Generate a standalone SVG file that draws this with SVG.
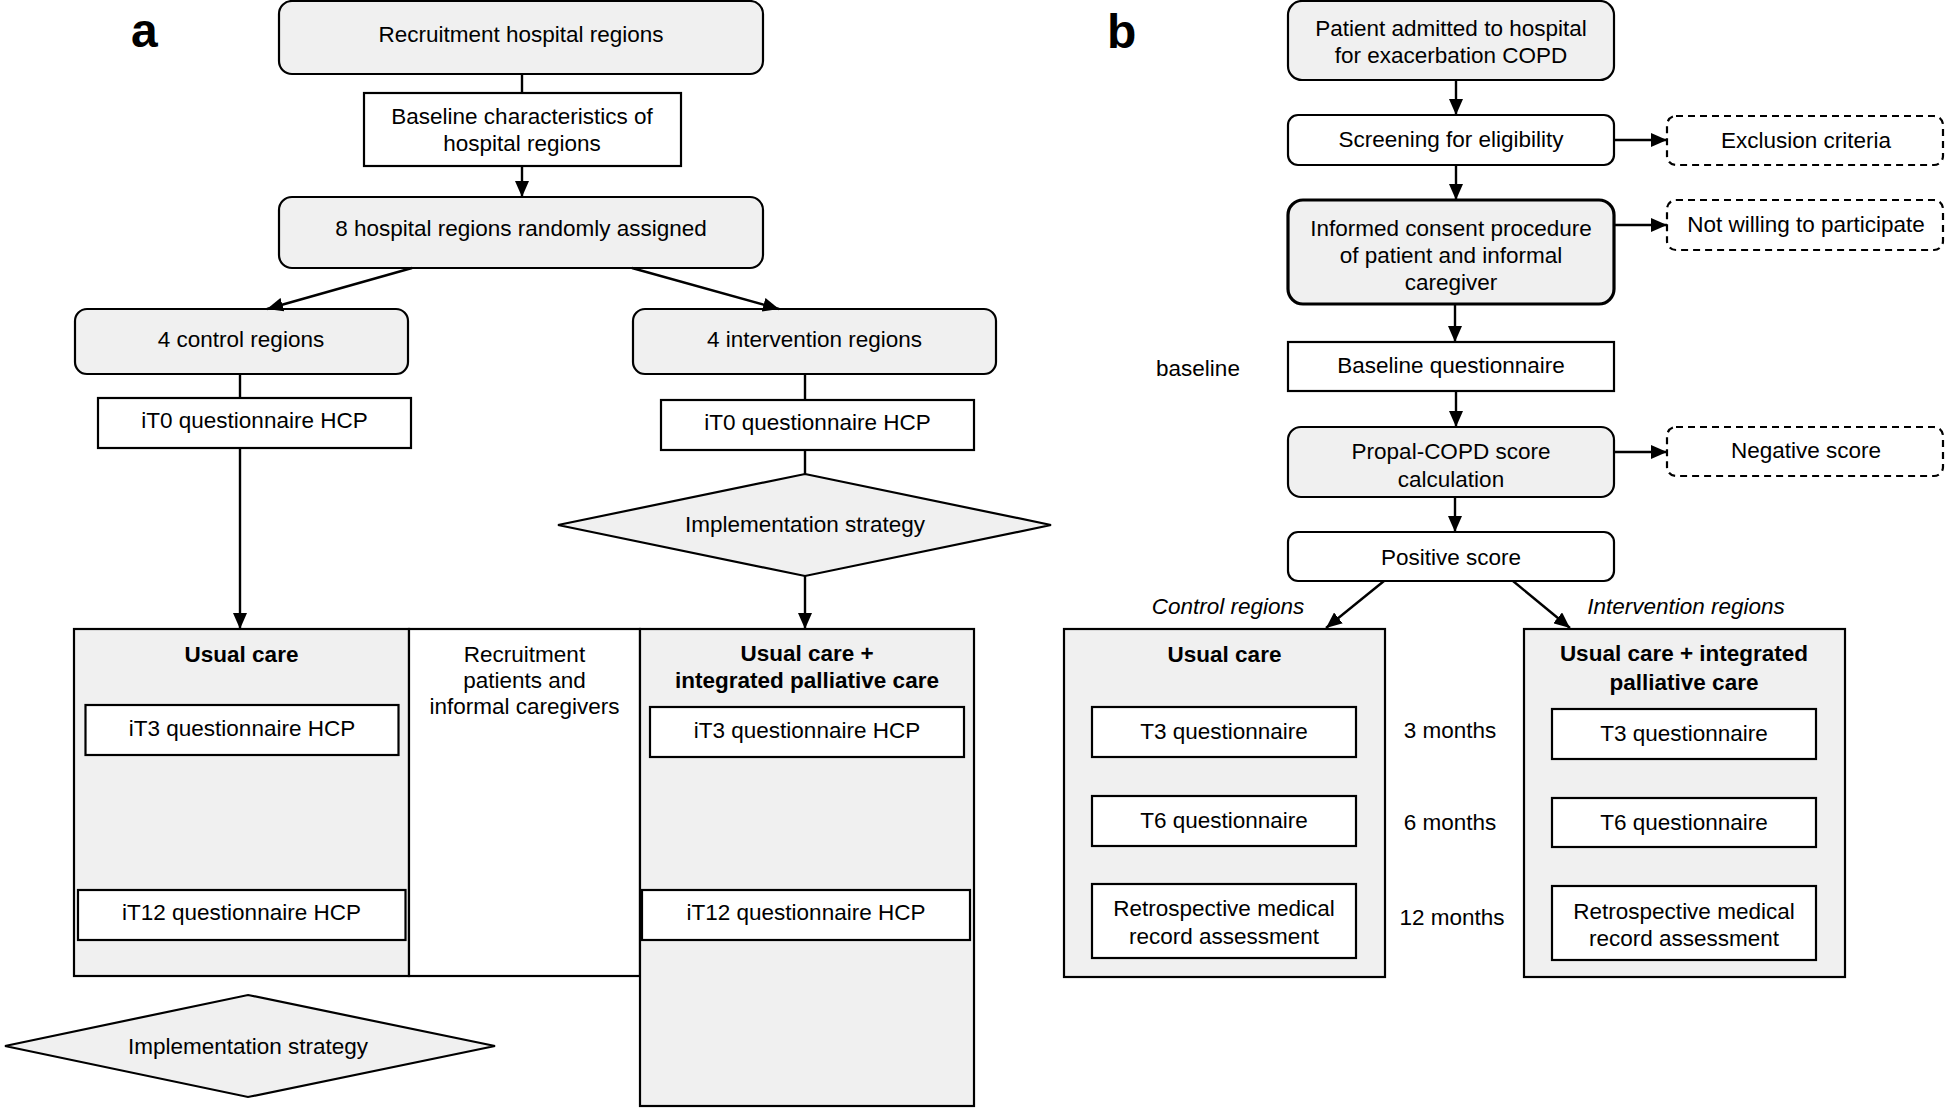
<svg xmlns="http://www.w3.org/2000/svg" width="1946" height="1108" viewBox="0 0 1946 1108">
<defs>
<marker id="ah" markerUnits="userSpaceOnUse" markerWidth="16" markerHeight="14" refX="16" refY="7" orient="auto">
<path d="M0,0 L16,7 L0,14 z" fill="#000"/>
</marker>
<style>
text{font-family:"Liberation Sans",Arial,sans-serif;font-size:22.5px;fill:#000;text-anchor:middle;dominant-baseline:central}
.b{font-weight:bold}
.i{font-style:italic}
.lbl{font-size:48px;font-weight:bold;text-anchor:start;dominant-baseline:auto}
.g{fill:#f0f0f0;stroke:#000;stroke-width:2.2}
.w{fill:#fff;stroke:#000;stroke-width:2.2}
.d{fill:#fff;stroke:#000;stroke-width:2.2;stroke-dasharray:7 5}
.thick{stroke-width:3.2}
.c line{stroke:#000;stroke-width:2.4;fill:none}
.c .a{marker-end:url(#ah)}
</style>
</defs>
<rect width="1946" height="1108" fill="#fff"/>

<text class="lbl" x="131" y="47">a</text>
<text class="lbl" x="1107" y="48">b</text>

<!-- Panel a nodes -->
<g id="a-recruit"><rect class="g" x="279" y="1" width="484" height="73" rx="13"/><text x="521" y="34">Recruitment hospital regions</text></g>
<g id="a-baseline"><rect class="w" x="364" y="93" width="317" height="73"/><text x="522" y="116">Baseline characteristics of</text><text x="522" y="143">hospital regions</text></g>
<g id="a-eight"><rect class="g" x="279" y="197" width="484" height="71" rx="13"/><text x="521" y="228.5">8 hospital regions randomly assigned</text></g>
<g id="a-control"><rect class="g" x="75" y="309" width="333" height="65" rx="12"/><text x="241" y="339">4 control regions</text></g>
<g id="a-intervention"><rect class="g" x="633" y="309" width="363" height="65" rx="12"/><text x="814.5" y="339">4 intervention regions</text></g>
<g id="a-it0-left"><rect class="w" x="98" y="398" width="313" height="50"/><text x="254.5" y="420.5">iT0 questionnaire HCP</text></g>
<g id="a-it0-right"><rect class="w" x="661" y="400" width="313" height="50"/><text x="817.5" y="422">iT0 questionnaire HCP</text></g>
<g id="a-impl-right"><polygon class="g" points="805,474 1051,525 805,576 558,525"/><text x="805" y="524.5">Implementation strategy</text></g>
<g id="a-usual"><rect class="g" x="74" y="629" width="335" height="347"/><text class="b" x="241.5" y="654">Usual care</text></g>
<g id="a-recruit-patients"><rect class="w" x="409" y="629" width="231" height="347"/><text x="524.5" y="654">Recruitment</text><text x="524.5" y="680">patients and</text><text x="524.5" y="706">informal caregivers</text></g>
<g id="a-usual-plus"><rect class="g" x="640" y="629" width="334" height="477"/><text class="b" x="807" y="653">Usual care +</text><text class="b" x="807" y="680">integrated palliative care</text></g>
<g id="a-it3-left"><rect class="w" x="85.5" y="705" width="313" height="50"/><text x="242" y="728.5">iT3 questionnaire HCP</text></g>
<g id="a-it3-right"><rect class="w" x="650" y="707" width="314" height="50"/><text x="807" y="730">iT3 questionnaire HCP</text></g>
<g id="a-it12-left"><rect class="w" x="78" y="890" width="327.5" height="50"/><text x="241.5" y="912">iT12 questionnaire HCP</text></g>
<g id="a-it12-right"><rect class="w" x="642" y="890" width="328" height="50"/><text x="806" y="912">iT12 questionnaire HCP</text></g>
<g id="a-impl-left"><polygon class="g" points="248,995 495,1046 248,1097 5,1046"/><text x="248" y="1046">Implementation strategy</text></g>

<!-- Panel b nodes -->
<g id="b-patient"><rect class="g" x="1288" y="1" width="326" height="79" rx="14"/><text x="1451" y="28">Patient admitted to hospital</text><text x="1451" y="55.5">for exacerbation COPD</text></g>
<g id="b-screening"><rect class="w" x="1288" y="115" width="326" height="50" rx="10"/><text x="1451" y="139">Screening for eligibility</text></g>
<g id="b-exclusion"><rect class="d" x="1667" y="116" width="276" height="49" rx="9"/><text x="1806" y="140.5">Exclusion criteria</text></g>
<g id="b-informed"><rect class="g thick" x="1288" y="200" width="326" height="104" rx="15"/><text x="1451" y="228">Informed consent procedure</text><text x="1451" y="255">of patient and informal</text><text x="1451" y="282.5">caregiver</text></g>
<g id="b-notwilling"><rect class="d" x="1667" y="200" width="276" height="50" rx="9"/><text x="1806" y="224">Not willing to participate</text></g>
<g id="b-baseline-label"><text x="1198" y="368.5">baseline</text></g>
<g id="b-baseline-q"><rect class="w" x="1288" y="342" width="326" height="49"/><text x="1451" y="365">Baseline questionnaire</text></g>
<g id="b-propal"><rect class="g" x="1288" y="427" width="326" height="70" rx="13"/><text x="1451" y="451.5">Propal-COPD score</text><text x="1451" y="479">calculation</text></g>
<g id="b-negative"><rect class="d" x="1667" y="427" width="276" height="49" rx="9"/><text x="1806" y="450">Negative score</text></g>
<g id="b-positive"><rect class="w" x="1288" y="532" width="326" height="49" rx="10"/><text x="1451" y="557.5">Positive score</text></g>
<g id="b-control-label"><text class="i" x="1228" y="606.5">Control regions</text></g>
<g id="b-intervention-label"><text class="i" x="1686" y="606.5">Intervention regions</text></g>
<g id="b-usual"><rect class="g" x="1064" y="629" width="321" height="348"/><text class="b" x="1224.5" y="654">Usual care</text></g>
<g id="b-t3-left"><rect class="w" x="1092" y="707" width="264" height="50"/><text x="1224" y="731.5">T3 questionnaire</text></g>
<g id="b-t6-left"><rect class="w" x="1092" y="796" width="264" height="50"/><text x="1224" y="820">T6 questionnaire</text></g>
<g id="b-retro-left"><rect class="w" x="1092" y="884" width="264" height="74"/><text x="1224" y="908">Retrospective medical</text><text x="1224" y="936">record assessment</text></g>
<g id="b-usual-plus"><rect class="g" x="1524" y="629" width="321" height="348"/><text class="b" x="1684" y="653">Usual care + integrated</text><text class="b" x="1684" y="682">palliative care</text></g>
<g id="b-t3-right"><rect class="w" x="1552" y="709" width="264" height="50"/><text x="1684" y="733">T3 questionnaire</text></g>
<g id="b-t6-right"><rect class="w" x="1552" y="798" width="264" height="49"/><text x="1684" y="822">T6 questionnaire</text></g>
<g id="b-retro-right"><rect class="w" x="1552" y="886" width="264" height="74"/><text x="1684" y="911">Retrospective medical</text><text x="1684" y="938">record assessment</text></g>
<g id="b-months"><text x="1450" y="730.5">3 months</text><text x="1450" y="822.5">6 months</text><text x="1452" y="917.5">12 months</text></g>

<!-- Connectors -->
<g id="connectors" class="c">
<line x1="522" y1="74" x2="522" y2="93"/>
<line class="a" x1="522" y1="166" x2="522" y2="197"/>
<line class="a" x1="412" y1="268" x2="267" y2="309"/>
<line class="a" x1="632" y1="268" x2="779" y2="309"/>
<line x1="240" y1="374" x2="240" y2="398"/>
<line class="a" x1="240" y1="448" x2="240" y2="629"/>
<line x1="805" y1="374" x2="805" y2="400"/>
<line x1="805" y1="450" x2="805" y2="474"/>
<line class="a" x1="805" y1="576" x2="805" y2="629"/>
<line class="a" x1="1456" y1="80" x2="1456" y2="115"/>
<line class="a" x1="1614" y1="140" x2="1667" y2="140"/>
<line class="a" x1="1456" y1="165" x2="1456" y2="200"/>
<line class="a" x1="1614" y1="225" x2="1667" y2="225"/>
<line class="a" x1="1455" y1="304" x2="1455" y2="342"/>
<line class="a" x1="1456" y1="391" x2="1456" y2="427"/>
<line class="a" x1="1614" y1="452" x2="1667" y2="452"/>
<line class="a" x1="1455" y1="497" x2="1455" y2="532"/>
<line class="a" x1="1384" y1="581" x2="1326" y2="628"/>
<line class="a" x1="1513" y1="581" x2="1570" y2="628"/>
</g>
</svg>
